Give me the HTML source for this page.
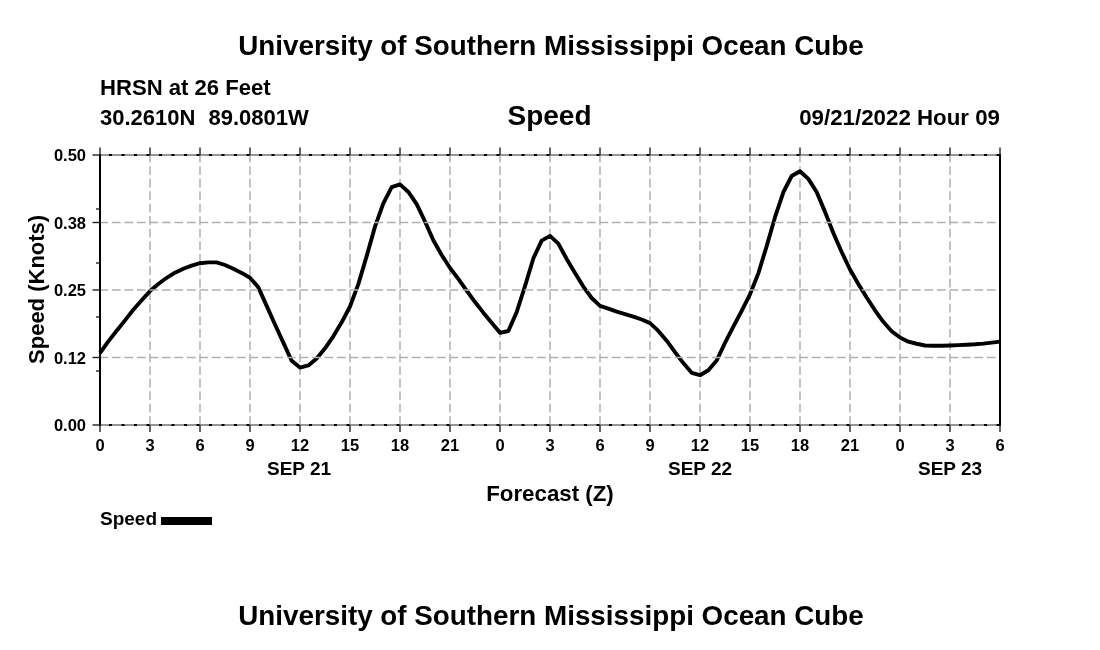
<!DOCTYPE html>
<html><head><meta charset="utf-8"><style>
html,body{margin:0;padding:0;background:#fff;width:1100px;height:650px;overflow:hidden}
svg{display:block;will-change:transform}
</style></head><body>
<svg width="1100" height="650" viewBox="0 0 1100 650">
<rect width="1100" height="650" fill="#fff"/>
<g font-family="Liberation Sans, sans-serif" font-weight="bold" fill="#000">
<text x="551" y="55" font-size="27.8" text-anchor="middle">University of Southern Mississippi Ocean Cube</text>
<text x="100" y="95" font-size="22.1">HRSN at 26 Feet</text>
<text x="100" y="125" font-size="22">30.2610N</text>
<text x="208.5" y="125" font-size="22">89.0801W</text>
<text x="549.5" y="125" font-size="28" text-anchor="middle">Speed</text>
<text x="1000" y="125" font-size="22.3" text-anchor="end">09/21/2022 Hour 09</text>
</g>
<g stroke="#b0b0b0" stroke-width="1.5" stroke-dasharray="8.75 3.75" fill="none"><line x1="150" y1="425" x2="150" y2="155" /><line x1="200" y1="425" x2="200" y2="155" /><line x1="250" y1="425" x2="250" y2="155" /><line x1="300" y1="425" x2="300" y2="155" /><line x1="350" y1="425" x2="350" y2="155" /><line x1="400" y1="425" x2="400" y2="155" /><line x1="450" y1="425" x2="450" y2="155" /><line x1="500" y1="425" x2="500" y2="155" /><line x1="550" y1="425" x2="550" y2="155" /><line x1="600" y1="425" x2="600" y2="155" /><line x1="650" y1="425" x2="650" y2="155" /><line x1="700" y1="425" x2="700" y2="155" /><line x1="750" y1="425" x2="750" y2="155" /><line x1="800" y1="425" x2="800" y2="155" /><line x1="850" y1="425" x2="850" y2="155" /><line x1="900" y1="425" x2="900" y2="155" /><line x1="950" y1="425" x2="950" y2="155" /></g>
<polyline points="100.00,353.00 108.33,341.40 116.67,330.80 125.00,320.40 133.33,309.80 141.67,300.30 150.00,291.10 158.33,284.04 166.67,277.80 175.00,272.66 183.33,268.72 191.67,265.60 200.00,263.20 208.33,262.40 216.67,262.40 225.00,265.00 233.33,268.80 241.67,272.90 250.00,277.70 258.33,287.33 266.67,305.90 275.00,324.45 283.33,342.64 291.67,360.80 300.00,367.60 308.33,365.40 316.67,358.40 325.00,348.30 333.33,336.30 341.67,322.30 350.00,306.50 358.33,284.14 366.67,256.12 375.00,226.65 383.33,203.43 391.67,187.20 400.00,184.38 408.33,191.96 416.67,204.04 425.00,221.52 433.33,240.30 441.67,255.00 450.00,268.00 458.33,278.87 466.67,290.65 475.00,302.07 483.33,312.67 491.67,322.65 500.00,332.80 508.33,331.00 516.67,312.15 525.00,286.22 533.33,258.45 541.67,240.67 550.00,235.89 558.33,243.58 566.67,259.00 575.00,273.00 583.33,286.60 591.67,298.00 600.00,305.80 608.33,308.69 616.67,311.64 625.00,314.13 633.33,316.57 641.67,319.52 650.00,323.10 658.33,330.89 666.67,340.69 675.00,352.08 683.33,363.08 691.67,372.80 700.00,375.20 708.33,370.30 716.67,360.50 725.00,342.90 733.33,326.70 741.67,310.80 750.00,294.30 758.33,273.36 766.67,246.12 775.00,217.19 783.33,192.26 791.67,176.01 800.00,171.26 808.33,178.87 816.67,192.05 825.00,211.87 833.33,233.00 841.67,252.00 850.00,269.50 858.33,284.00 866.67,297.50 875.00,310.30 883.33,321.80 891.67,331.20 900.00,337.57 908.33,341.66 916.67,343.74 925.00,345.47 933.33,345.76 941.67,345.70 950.00,345.46 958.33,345.11 966.67,344.72 975.00,344.27 983.33,343.61 991.67,342.67 1000.00,341.60" fill="none" stroke="#000" stroke-width="3.9" stroke-linejoin="round" stroke-linecap="butt"/>
<g stroke="#b0b0b0" stroke-width="1.5" stroke-dasharray="8.75 3.75" stroke-dashoffset="0.6" fill="none"><line x1="100" y1="222.5" x2="1000" y2="222.5" /><line x1="100" y1="290" x2="1000" y2="290" /><line x1="100" y1="357.5" x2="1000" y2="357.5" /></g>
<g stroke="#000" stroke-width="2" fill="none">
<line x1="100" y1="155" x2="1000" y2="155"/><line x1="100" y1="425" x2="1000" y2="425"/>
</g>
<g stroke="#959595" stroke-width="2.1" stroke-dasharray="9.5 3" stroke-dashoffset="0.5" fill="none"><line x1="100" y1="155" x2="1000" y2="155" /><line x1="100" y1="425" x2="1000" y2="425" /></g>
<g stroke="#000" stroke-width="2" fill="none">
<line x1="100" y1="154" x2="100" y2="426"/><line x1="1000" y1="154" x2="1000" y2="426"/>
</g>
<g stroke="#222" stroke-width="1.4" fill="none"><line x1="100" y1="147.5" x2="100" y2="155" /><line x1="100" y1="425" x2="100" y2="432" /><line x1="150" y1="147.5" x2="150" y2="155" /><line x1="150" y1="425" x2="150" y2="432" /><line x1="200" y1="147.5" x2="200" y2="155" /><line x1="200" y1="425" x2="200" y2="432" /><line x1="250" y1="147.5" x2="250" y2="155" /><line x1="250" y1="425" x2="250" y2="432" /><line x1="300" y1="147.5" x2="300" y2="155" /><line x1="300" y1="425" x2="300" y2="432" /><line x1="350" y1="147.5" x2="350" y2="155" /><line x1="350" y1="425" x2="350" y2="432" /><line x1="400" y1="147.5" x2="400" y2="155" /><line x1="400" y1="425" x2="400" y2="432" /><line x1="450" y1="147.5" x2="450" y2="155" /><line x1="450" y1="425" x2="450" y2="432" /><line x1="500" y1="147.5" x2="500" y2="155" /><line x1="500" y1="425" x2="500" y2="432" /><line x1="550" y1="147.5" x2="550" y2="155" /><line x1="550" y1="425" x2="550" y2="432" /><line x1="600" y1="147.5" x2="600" y2="155" /><line x1="600" y1="425" x2="600" y2="432" /><line x1="650" y1="147.5" x2="650" y2="155" /><line x1="650" y1="425" x2="650" y2="432" /><line x1="700" y1="147.5" x2="700" y2="155" /><line x1="700" y1="425" x2="700" y2="432" /><line x1="750" y1="147.5" x2="750" y2="155" /><line x1="750" y1="425" x2="750" y2="432" /><line x1="800" y1="147.5" x2="800" y2="155" /><line x1="800" y1="425" x2="800" y2="432" /><line x1="850" y1="147.5" x2="850" y2="155" /><line x1="850" y1="425" x2="850" y2="432" /><line x1="900" y1="147.5" x2="900" y2="155" /><line x1="900" y1="425" x2="900" y2="432" /><line x1="950" y1="147.5" x2="950" y2="155" /><line x1="950" y1="425" x2="950" y2="432" /><line x1="1000" y1="147.5" x2="1000" y2="155" /><line x1="1000" y1="425" x2="1000" y2="432" /><line x1="92.5" y1="155.0" x2="100" y2="155.0" /><line x1="92.5" y1="222.5" x2="100" y2="222.5" /><line x1="92.5" y1="290.0" x2="100" y2="290.0" /><line x1="92.5" y1="357.5" x2="100" y2="357.5" /><line x1="92.5" y1="425.0" x2="100" y2="425.0" /><line x1="96" y1="371" x2="100" y2="371" /><line x1="96" y1="317" x2="100" y2="317" /><line x1="96" y1="263" x2="100" y2="263" /><line x1="96" y1="209" x2="100" y2="209" /></g>
<g font-family="Liberation Sans, sans-serif" font-weight="bold" fill="#000" font-size="16.5"><text x="86" y="161.0" text-anchor="end">0.50</text><text x="86" y="228.5" text-anchor="end">0.38</text><text x="86" y="296.0" text-anchor="end">0.25</text><text x="86" y="363.5" text-anchor="end">0.12</text><text x="86" y="431.0" text-anchor="end">0.00</text><text x="100" y="451" text-anchor="middle">0</text><text x="150" y="451" text-anchor="middle">3</text><text x="200" y="451" text-anchor="middle">6</text><text x="250" y="451" text-anchor="middle">9</text><text x="300" y="451" text-anchor="middle">12</text><text x="350" y="451" text-anchor="middle">15</text><text x="400" y="451" text-anchor="middle">18</text><text x="450" y="451" text-anchor="middle">21</text><text x="500" y="451" text-anchor="middle">0</text><text x="550" y="451" text-anchor="middle">3</text><text x="600" y="451" text-anchor="middle">6</text><text x="650" y="451" text-anchor="middle">9</text><text x="700" y="451" text-anchor="middle">12</text><text x="750" y="451" text-anchor="middle">15</text><text x="800" y="451" text-anchor="middle">18</text><text x="850" y="451" text-anchor="middle">21</text><text x="900" y="451" text-anchor="middle">0</text><text x="950" y="451" text-anchor="middle">3</text><text x="1000" y="451" text-anchor="middle">6</text></g>
<g font-family="Liberation Sans, sans-serif" font-weight="bold" fill="#000">
<text x="299" y="475" font-size="19" text-anchor="middle">SEP 21</text>
<text x="700" y="475" font-size="19" text-anchor="middle">SEP 22</text>
<text x="950" y="475" font-size="19" text-anchor="middle">SEP 23</text>
<text x="550" y="500.5" font-size="22.3" text-anchor="middle">Forecast (Z)</text>
<text transform="translate(44 289.4) rotate(-90)" x="0" y="0" font-size="22" text-anchor="middle">Speed (Knots)</text>
<text x="100" y="525" font-size="19">Speed</text>
<text x="551" y="625" font-size="27.8" text-anchor="middle">University of Southern Mississippi Ocean Cube</text>
</g>
<rect x="161" y="517" width="51" height="8" fill="#000"/>
</svg>
</body></html>
